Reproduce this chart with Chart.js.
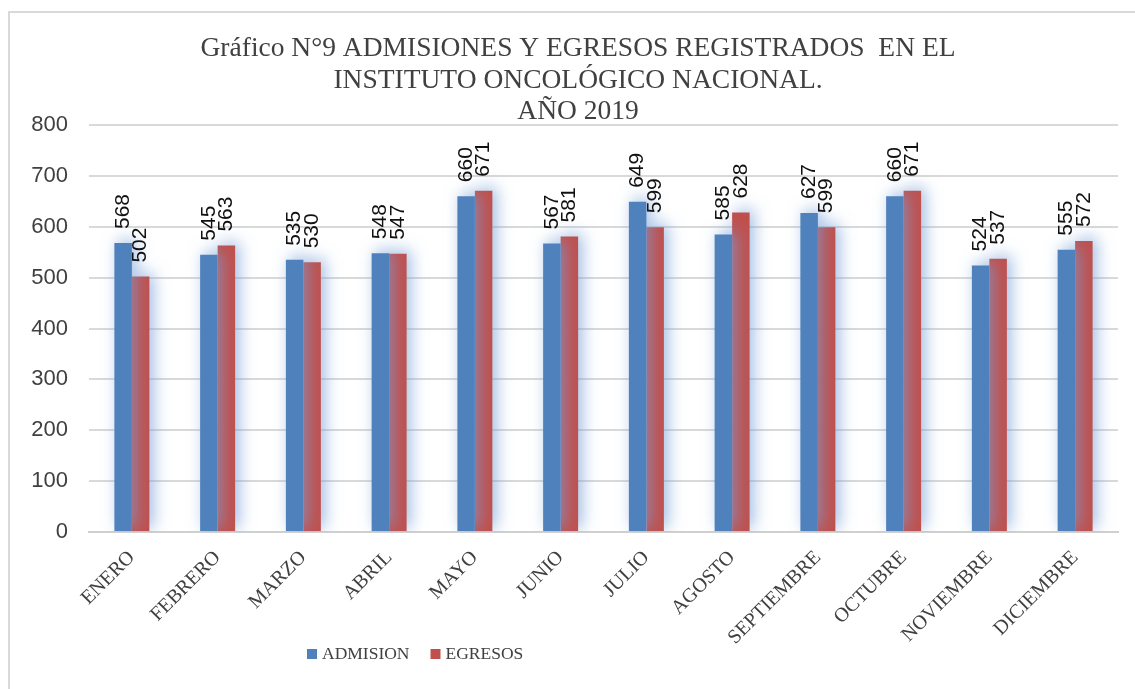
<!DOCTYPE html>
<html>
<head>
<meta charset="utf-8">
<script src="https://cdn.jsdelivr.net/npm/chart.js@4.4.1/dist/chart.umd.min.js"></script>
<style>
  html, body { margin: 0; padding: 0; background: #ffffff; }
  #wrap { position: relative; width: 1135px; height: 689px; }
</style>
</head>
<body>
<div id="wrap"><canvas id="c" width="1135" height="689"></canvas></div>
<script>
const titleLines = [
  'Gráfico N°9 ADMISIONES Y EGRESOS REGISTRADOS  EN EL',
  'INSTITUTO ONCOLÓGICO NACIONAL.',
  'AÑO 2019'
];
const categories = ['ENERO','FEBRERO','MARZO','ABRIL','MAYO','JUNIO','JULIO','AGOSTO','SEPTIEMBRE','OCTUBRE','NOVIEMBRE','DICIEMBRE'];
const admision = [568, 545, 535, 548, 660, 567, 649, 585, 627, 660, 524, 555];
const egresos  = [502, 563, 530, 547, 671, 581, 599, 628, 599, 671, 537, 572];
const seriesNames = ['ADMISION', 'EGRESOS'];
const seriesColors = ['#4F81BD', '#C0504D'];
const yTicks = [0, 100, 200, 300, 400, 500, 600, 700, 800];

const frame = {
  id: 'frame',
  beforeDraw(chart) {
    const ctx = chart.ctx;
    ctx.save();
    ctx.strokeStyle = '#d9d9d9';
    ctx.lineWidth = 2;
    ctx.strokeRect(9, 12, 1200, 800);
    ctx.restore();
  }
};

const titlePlugin = {
  id: 'titlePlugin',
  afterDraw(chart) {
    const ctx = chart.ctx;
    ctx.save();
    ctx.font = '27.5px "Liberation Serif"';
    ctx.fillStyle = '#404040';
    ctx.textAlign = 'center';
    ctx.textBaseline = 'middle';
    titleLines.forEach((t, i) => ctx.fillText(t, 578, 49 + i * 31.5));
    ctx.restore();
  }
};

const glow = {
  id: 'glow',
  beforeDatasetsDraw(chart) {
    const ctx = chart.ctx;
    ctx.save();
    ctx.shadowColor = 'rgba(120,160,215,0.7)';
    ctx.shadowBlur = 16;
    ctx.shadowOffsetX = 4;
    ctx.shadowOffsetY = -3;
  },
  afterDatasetsDraw(chart) {
    chart.ctx.restore();
  }
};

const valueLabels = {
  id: 'valueLabels',
  afterDraw(chart) {
    const ctx = chart.ctx;
    ctx.save();
    ctx.font = '21px "Liberation Sans"';
    ctx.fillStyle = '#111111';
    ctx.textAlign = 'left';
    ctx.textBaseline = 'middle';
    chart.data.datasets.forEach((ds, di) => {
      const meta = chart.getDatasetMeta(di);
      meta.data.forEach((bar, i) => {
        ctx.save();
        ctx.translate(bar.x, bar.y - 14);
        ctx.rotate(-Math.PI / 2);
        ctx.fillText(String(ds.data[i]), 0, 0);
        ctx.restore();
      });
    });
    ctx.restore();
  }
};

const legendPlugin = {
  id: 'legendPlugin',
  afterDraw(chart) {
    const ctx = chart.ctx;
    ctx.save();
    ctx.font = '17.5px "Liberation Serif"';
    ctx.textBaseline = 'middle';
    ctx.textAlign = 'left';
    let x = 307;
    const y = 654;
    chart.data.datasets.forEach(ds => {
      ctx.fillStyle = ds.backgroundColor;
      ctx.fillRect(x, y - 5, 10, 10);
      ctx.fillStyle = '#404040';
      ctx.fillText(ds.label, x + 15, y);
      x += 15 + ctx.measureText(ds.label).width + 21;
    });
    ctx.restore();
  }
};

new Chart(document.getElementById('c'), {
  type: 'bar',
  data: {
    labels: categories,
    datasets: [
      { label: seriesNames[0], data: admision, backgroundColor: seriesColors[0], categoryPercentage: 0.408, barPercentage: 1 },
      { label: seriesNames[1], data: egresos, backgroundColor: seriesColors[1], categoryPercentage: 0.408, barPercentage: 1 }
    ]
  },
  options: {
    responsive: false,
    animation: false,
    layout: { padding: { top: 125, left: 0, right: 17, bottom: 7 } },
    plugins: {
      legend: { display: false },
      title: { display: false },
      tooltip: { enabled: false }
    },
    scales: {
      x: {
        grid: { display: false },
        border: { display: true, color: '#d0d0d0', width: 2 },
        ticks: {
          autoSkip: false,
          minRotation: 45,
          maxRotation: 45,
          padding: 6,
          color: '#404040',
          font: { family: '"Liberation Serif"', size: 20 }
        },
        afterFit(scale) { scale.height = 150; }
      },
      y: {
        min: 0,
        max: 800,
        afterBuildTicks(scale) { scale.ticks = yTicks.map(v => ({ value: v })); },
        grid: { color: '#d9d9d9', lineWidth: 2, drawTicks: false },
        border: { display: false },
        ticks: {
          padding: 21,
          color: '#404040',
          font: { family: '"Liberation Sans"', size: 22 }
        },
        afterFit(scale) { scale.width = 89; }
      }
    }
  },
  plugins: [frame, glow, valueLabels, titlePlugin, legendPlugin]
});
</script>
</body>
</html>
